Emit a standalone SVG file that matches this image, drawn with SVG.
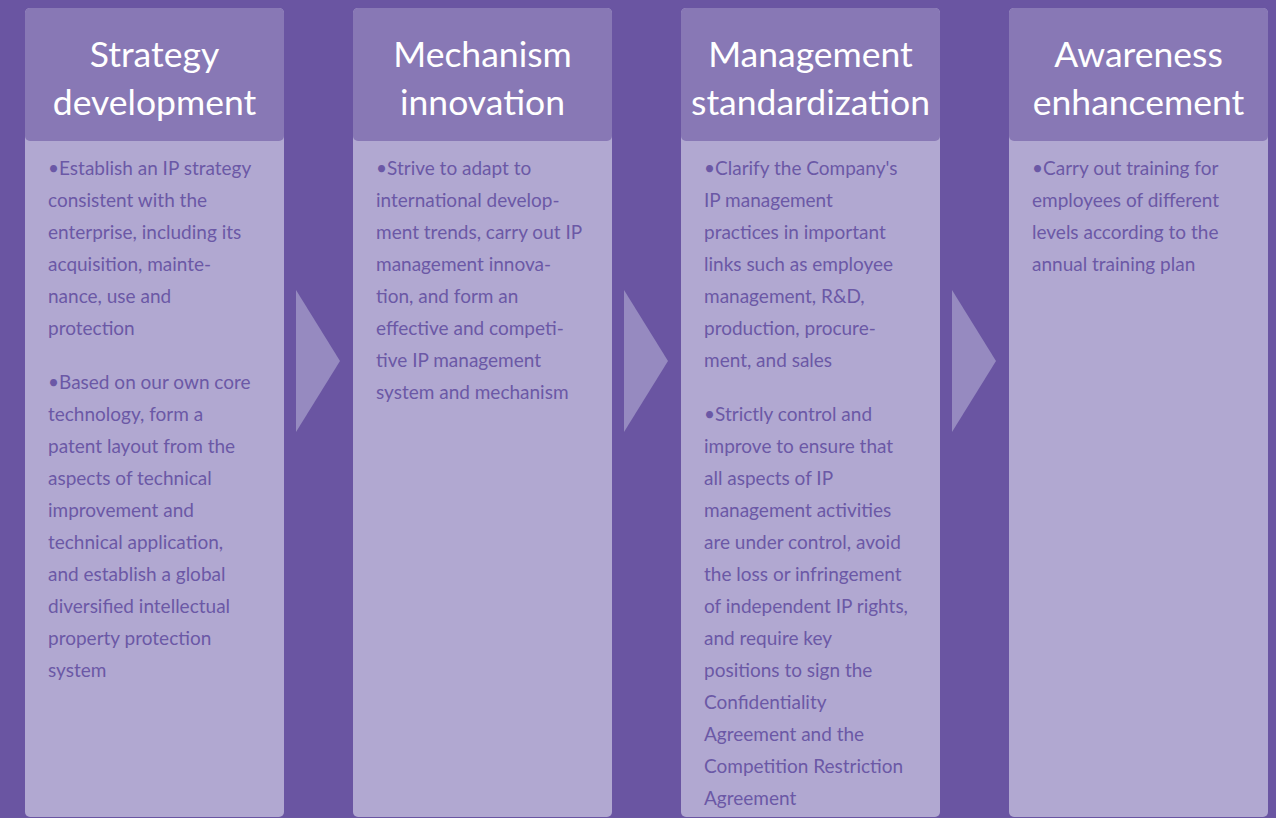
<svg xmlns="http://www.w3.org/2000/svg" width="1276" height="818" viewBox="0 0 1276 818">
<style>
.card{fill:#b1a8d1}
.head{fill:#8878b5}
.arrow{fill:#968ac0}
.title{font-family:Lato,"Liberation Sans",sans-serif;font-size:35.5px;fill:#ffffff;text-anchor:middle}
.body{font-family:Lato,"Liberation Sans",sans-serif;font-size:19px;fill:#6b58a6}
</style>
<rect x="0" y="0" width="1276" height="818" fill="#6a55a2"/>
<g id="connectors">
<polygon class="arrow" points="296,290 340,361 296,432"/>
<polygon class="arrow" points="624,290 668,361 624,432"/>
<polygon class="arrow" points="952,290 996,361 952,432"/>
</g>
<g id="node-strategy">
<rect class="card" x="25" y="8" width="259" height="809" rx="5"/>
<rect class="head" x="25" y="8" width="259" height="133" rx="5"/>
<text class="title" x="154.5" y="67">Strategy</text>
<text class="title" x="154.5" y="115">development</text>
<text class="body" x="48" y="175">
<tspan x="48" dy="0">•Establish an IP strategy</tspan>
<tspan x="48" dy="32">consistent with the</tspan>
<tspan x="48" dy="32">enterprise, including its</tspan>
<tspan x="48" dy="32">acquisition, mainte-</tspan>
<tspan x="48" dy="32">nance, use and</tspan>
<tspan x="48" dy="32">protection</tspan>
<tspan x="48" dy="54">•Based on our own core</tspan>
<tspan x="48" dy="32">technology, form a</tspan>
<tspan x="48" dy="32">patent layout from the</tspan>
<tspan x="48" dy="32">aspects of technical</tspan>
<tspan x="48" dy="32">improvement and</tspan>
<tspan x="48" dy="32">technical application,</tspan>
<tspan x="48" dy="32">and establish a global</tspan>
<tspan x="48" dy="32">diversified intellectual</tspan>
<tspan x="48" dy="32">property protection</tspan>
<tspan x="48" dy="32">system</tspan>
</text>
</g>
<g id="node-mechanism">
<rect class="card" x="353" y="8" width="259" height="809" rx="5"/>
<rect class="head" x="353" y="8" width="259" height="133" rx="5"/>
<text class="title" x="482.5" y="67">Mechanism</text>
<text class="title" x="482.5" y="115">innovation</text>
<text class="body" x="376" y="175">
<tspan x="376" dy="0">•Strive to adapt to</tspan>
<tspan x="376" dy="32">international develop-</tspan>
<tspan x="376" dy="32">ment trends, carry out IP</tspan>
<tspan x="376" dy="32">management innova-</tspan>
<tspan x="376" dy="32">tion, and form an</tspan>
<tspan x="376" dy="32">effective and competi-</tspan>
<tspan x="376" dy="32">tive IP management</tspan>
<tspan x="376" dy="32">system and mechanism</tspan>
</text>
</g>
<g id="node-management">
<rect class="card" x="681" y="8" width="259" height="809" rx="5"/>
<rect class="head" x="681" y="8" width="259" height="133" rx="5"/>
<text class="title" x="810.5" y="67">Management</text>
<text class="title" x="810.5" y="115">standardization</text>
<text class="body" x="704" y="175">
<tspan x="704" dy="0">•Clarify the Company's</tspan>
<tspan x="704" dy="32">IP management</tspan>
<tspan x="704" dy="32">practices in important</tspan>
<tspan x="704" dy="32">links such as employee</tspan>
<tspan x="704" dy="32">management, R&amp;D,</tspan>
<tspan x="704" dy="32">production, procure-</tspan>
<tspan x="704" dy="32">ment, and sales</tspan>
<tspan x="704" dy="54">•Strictly control and</tspan>
<tspan x="704" dy="32">improve to ensure that</tspan>
<tspan x="704" dy="32">all aspects of IP</tspan>
<tspan x="704" dy="32">management activities</tspan>
<tspan x="704" dy="32">are under control, avoid</tspan>
<tspan x="704" dy="32">the loss or infringement</tspan>
<tspan x="704" dy="32">of independent IP rights,</tspan>
<tspan x="704" dy="32">and require key</tspan>
<tspan x="704" dy="32">positions to sign the</tspan>
<tspan x="704" dy="32">Confidentiality</tspan>
<tspan x="704" dy="32">Agreement and the</tspan>
<tspan x="704" dy="32">Competition Restriction</tspan>
<tspan x="704" dy="32">Agreement</tspan>
</text>
</g>
<g id="node-awareness">
<rect class="card" x="1009" y="8" width="259" height="809" rx="5"/>
<rect class="head" x="1009" y="8" width="259" height="133" rx="5"/>
<text class="title" x="1138.5" y="67">Awareness</text>
<text class="title" x="1138.5" y="115">enhancement</text>
<text class="body" x="1032" y="175">
<tspan x="1032" dy="0">•Carry out training for</tspan>
<tspan x="1032" dy="32">employees of different</tspan>
<tspan x="1032" dy="32">levels according to the</tspan>
<tspan x="1032" dy="32">annual training plan</tspan>
</text>
</g>
</svg>
